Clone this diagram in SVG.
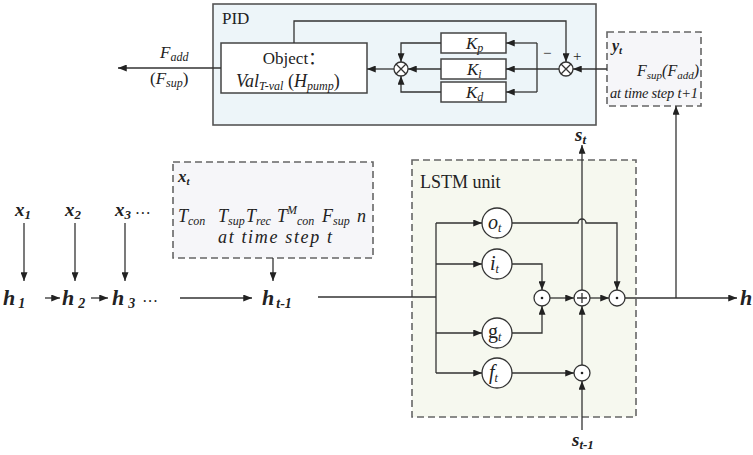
<svg xmlns="http://www.w3.org/2000/svg" width="753" height="455" viewBox="0 0 753 455">
<defs>
<marker id="arr" viewBox="0 0 10 8" refX="10" refY="4" markerWidth="9" markerHeight="7" markerUnits="userSpaceOnUse" orient="auto"><path d="M0,0 L10,4 L0,8 z" fill="#222"/></marker>
<style>
text{fill:#222}
.it{font-style:italic}
.bi{font-style:italic;font-weight:bold}
.ln{fill:none;stroke:#333;stroke-width:1.3}
.ar{fill:none;stroke:#333;stroke-width:1.3;marker-end:url(#arr)}
.op{fill:#fff;stroke:#333;stroke-width:1.3}
.gate{fill:#fff;stroke:#333;stroke-width:1.3}
.kbox{fill:#fff;stroke:#444;stroke-width:1.5}
.dash{stroke:#666;stroke-width:1.6;stroke-dasharray:7 4}
</style>
</defs>
<rect width="753" height="455" fill="#fff"/>
<g font-family="Liberation Serif, Times New Roman, serif">

<!-- containers -->
<g id="pid">
<rect x="213" y="4" width="383" height="121" fill="#edf5f9" stroke="#555" stroke-width="1.6"/>
<text x="222" y="24" font-size="17">PID</text>
</g>
<g id="lstm">
<rect x="412" y="160" width="224" height="257" fill="#f6f8ef" class="dash"/>
<text x="420" y="188" font-size="18">LSTM unit</text>
</g>
<g id="xt">
<rect x="173" y="162" width="200" height="96" fill="#f6f6f9" class="dash"/>
<text x="178" y="182" font-size="17" class="bi">x<tspan font-size="11" dy="3">t</tspan></text>
<text y="222" font-size="18" class="it"><tspan x="178">T</tspan><tspan font-size="12" dy="3">con</tspan><tspan x="218" dy="-3">T</tspan><tspan font-size="12" dy="3">sup</tspan><tspan x="246" dy="-3">T</tspan><tspan font-size="12" dy="3">rec</tspan><tspan x="277" dy="-3">T</tspan><tspan font-size="12" dy="-8">M</tspan><tspan font-size="12" x="297" dy="11">con</tspan><tspan x="322" dy="-3">F</tspan><tspan font-size="12" dy="3">sup</tspan><tspan x="357" dy="-3">n</tspan></text>
<text x="275" y="243" font-size="18" class="it" text-anchor="middle" textLength="114" lengthAdjust="spacing">at time step t</text>
</g>
<g id="yt">
<rect x="607" y="32" width="94" height="74" fill="#f6f6f9" class="dash"/>
<text x="612" y="51" font-size="16" class="bi">y<tspan font-size="11" dy="3">t</tspan></text>
<text x="637" y="76" font-size="16" class="it">F<tspan font-size="11" dy="3">sup</tspan><tspan dy="-3">(F</tspan><tspan font-size="11" dy="3">add</tspan><tspan dy="-3">)</tspan></text>
<text x="610" y="98" font-size="14.5" class="it" textLength="88" lengthAdjust="spacing">at time step t+1</text>
</g>

<!-- PID nodes -->
<g id="object">
<rect x="221" y="43" width="146" height="50" fill="#fff" stroke="#444" stroke-width="1.5"/>
<text x="294" y="64" font-size="17" text-anchor="middle" font-family="Liberation Serif, Noto Sans CJK SC, serif">Object：</text>
<text x="236" y="87" font-size="18"><tspan class="it">Val</tspan><tspan class="it" font-size="12" dy="3">T-val</tspan><tspan dy="-3"> (</tspan><tspan class="it">H</tspan><tspan class="it" font-size="12" dy="3">pump</tspan><tspan dy="-3">)</tspan></text>
</g>
<g id="kp"><rect x="441" y="33" width="65" height="20" class="kbox"/><text x="466" y="49" font-size="17" class="it">K<tspan font-size="12" dy="3">p</tspan></text></g>
<g id="ki"><rect x="441" y="59" width="65" height="20" class="kbox"/><text x="467" y="75" font-size="17" class="it">K<tspan font-size="12" dy="3">i</tspan></text></g>
<g id="kd"><rect x="441" y="82" width="65" height="20" class="kbox"/><text x="466" y="98" font-size="17" class="it">K<tspan font-size="12" dy="3">d</tspan></text></g>
<g id="sum-left"><circle cx="401" cy="69" r="7" class="op"/><path d="M396,64 L406,74 M406,64 L396,74" class="ln"/></g>
<g id="sum-right"><circle cx="566" cy="69" r="7" class="op"/><path d="M561,64 L571,74 M571,64 L561,74" class="ln"/>
<text x="543" y="58" font-size="15">−</text><text x="573" y="61" font-size="15">+</text></g>

<!-- LSTM nodes -->
<g id="gate-o"><circle cx="497" cy="223" r="15" class="gate"/><text x="488" y="229" font-size="20" class="it">o<tspan font-size="12" dy="3">t</tspan></text></g>
<g id="gate-i"><circle cx="497" cy="264" r="15" class="gate"/><text x="490" y="270" font-size="20" class="it">i<tspan font-size="12" dy="3">t</tspan></text></g>
<g id="gate-g"><circle cx="497" cy="333" r="15" class="gate"/><text x="488" y="338" font-size="20">g<tspan font-size="12" dy="3" class="it">t</tspan></text></g>
<g id="gate-f"><circle cx="497" cy="373" r="15" class="gate"/><text x="489" y="379" font-size="20" class="it">f<tspan font-size="12" dy="3">t</tspan></text></g>
<g id="mul-ig"><circle cx="542" cy="298" r="8" class="op"/><circle cx="542" cy="298" r="1.3" fill="#222"/></g>
<g id="add"><circle cx="582" cy="298" r="8" class="op"/><path d="M577,298 H587 M582,293 V303" class="ln"/></g>
<g id="mul-o"><circle cx="617" cy="298" r="8" class="op"/><circle cx="617" cy="298" r="1.3" fill="#222"/></g>
<g id="mul-f"><circle cx="582" cy="373" r="8" class="op"/><circle cx="582" cy="373" r="1.3" fill="#222"/></g>

<!-- sequence labels -->
<g id="x1"><text x="15" y="216" font-size="19" class="bi">x<tspan font-size="13" dy="3">1</tspan></text></g>
<g id="x2"><text x="65" y="216" font-size="19" class="bi">x<tspan font-size="13" dy="3">2</tspan></text></g>
<g id="x3"><text x="115" y="216" font-size="19" class="bi">x<tspan font-size="13" dy="3">3</tspan><tspan font-size="16" font-weight="normal" dx="5" dy="-5">…</tspan></text></g>
<g id="h1"><text x="3" y="305" font-size="22" class="bi">h<tspan font-size="14" dx="3" dy="3">1</tspan></text></g>
<g id="h2"><text x="62" y="305" font-size="22" class="bi">h<tspan font-size="14" dx="4" dy="3">2</tspan></text></g>
<g id="h3"><text x="112" y="305" font-size="22" class="bi">h<tspan font-size="14" dx="4" dy="3">3</tspan><tspan font-size="16" font-weight="normal" dx="8" dy="-6">…</tspan></text></g>
<g id="ht1"><text x="262" y="305" font-size="22" class="bi">h<tspan font-size="14" dx="2" dy="3">t-1</tspan></text></g>
<g id="h-out"><text x="740" y="305" font-size="22" class="bi">h</text></g>
<g id="st"><text x="575" y="141" font-size="19" class="bi">s<tspan font-size="13" dy="3">t</tspan></text></g>
<g id="st1"><text x="572" y="446" font-size="19" class="bi">s<tspan font-size="13" dy="3">t-1</tspan></text></g>
<g id="fadd"><text x="160" y="58" font-size="17" class="it">F<tspan font-size="12" dy="3">add</tspan></text>
<text x="150" y="84" font-size="17" class="it"><tspan font-style="normal">(</tspan>F<tspan font-size="12" dy="3">sup</tspan><tspan font-style="normal" dy="-3">)</tspan></text></g>
</g>

<!-- connectors -->
<g id="connectors">
<path d="M221,68 H118" class="ar"/>
<path d="M394,69 H367" class="ar"/>
<path d="M441,43 H401 V62" class="ar"/>
<path d="M441,69 H408" class="ar"/>
<path d="M441,92 H401 V76" class="ar"/>
<path d="M559,69 H506" class="ar"/>
<path d="M537,43 V92" class="ln"/>
<path d="M537,43 H506" class="ar"/>
<path d="M537,92 H506" class="ar"/>
<path d="M294,43 V21 H566 V62" class="ar"/>
<path d="M607,69 H573" class="ar"/>
<path d="M24,223 V281" class="ar"/>
<path d="M75,223 V281" class="ar"/>
<path d="M125,223 V281" class="ar"/>
<path d="M273,258 V281" class="ar"/>
<path d="M45,298 H60" class="ar"/>
<path d="M91,298 H108" class="ar"/>
<path d="M180,298 H252" class="ar"/>
<path d="M318,297 H436" class="ln"/>
<path d="M436,223 V373" class="ln"/>
<path d="M436,223 H482" class="ar"/>
<path d="M436,264 H482" class="ar"/>
<path d="M436,333 H482" class="ar"/>
<path d="M436,373 H482" class="ar"/>
<path d="M512,264 H542 V290" class="ar"/>
<path d="M512,333 H542 V306" class="ar"/>
<path d="M512,373 H574" class="ar"/>
<path d="M550,298 H574" class="ar"/>
<path d="M590,298 H609" class="ar"/>
<path d="M512,223 H578 A4,4 0 0 1 586,223 H617 V290" class="ar"/>
<path d="M582,365 V306" class="ar"/>
<path d="M582,430 V381" class="ar"/>
<path d="M582,290 V145" class="ar"/>
<path d="M625,298 H737" class="ar"/>
<path d="M676,298 V106" class="ar"/>
</g>
</svg>
